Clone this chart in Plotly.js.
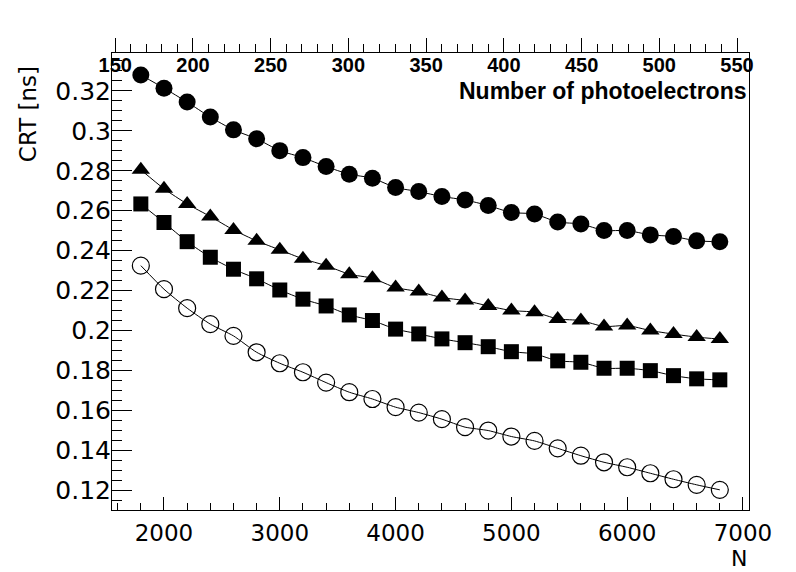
<!DOCTYPE html>
<html>
<head>
<meta charset="utf-8">
<script src="https://cdn.plot.ly/plotly-3.0.1.min.js"></script>
<style>html,body{margin:0;padding:0;background:#fff;}#chart{width:796px;height:572px;}</style>
</head>
<body>
<div id="chart"></div>
<script>
var N = [1800, 2000, 2200, 2400, 2600, 2800, 3000, 3200, 3400, 3600, 3800, 4000, 4200,
         4400, 4600, 4800, 5000, 5200, 5400, 5600, 5800, 6000, 6200, 6400, 6600, 6800];
var crtFilledCircle = [0.3280, 0.3214, 0.3144, 0.3069, 0.3005, 0.2960, 0.2901, 0.2866, 0.2821,
                       0.2783, 0.2763, 0.2716, 0.2696, 0.2671, 0.2654, 0.2626, 0.2591, 0.2584,
                       0.2543, 0.2534, 0.2501, 0.2501, 0.2479, 0.2471, 0.2449, 0.2445];
var crtTriangle = [0.2805, 0.2710, 0.2634, 0.2571, 0.2504, 0.2449, 0.2404, 0.2359, 0.2325,
                   0.2282, 0.2262, 0.2215, 0.2195, 0.2165, 0.2150, 0.2123, 0.2100, 0.2092,
                   0.2058, 0.2050, 0.2020, 0.2025, 0.2000, 0.1982, 0.1967, 0.1957];
var crtSquare = [0.2634, 0.2541, 0.2445, 0.2367, 0.2307, 0.2259, 0.2203, 0.2157, 0.2123,
                 0.2078, 0.2050, 0.2007, 0.1983, 0.1958, 0.1939, 0.1919, 0.1894, 0.1883,
                 0.1848, 0.1841, 0.1811, 0.1811, 0.1799, 0.1774, 0.1758, 0.1753];
var crtOpenCircle = [0.2325, 0.2207, 0.2112, 0.2032, 0.1973, 0.1891, 0.1836, 0.1791, 0.1739,
                     0.1691, 0.1657, 0.1616, 0.1589, 0.1556, 0.1516, 0.1499, 0.1469, 0.1447,
                     0.1410, 0.1373, 0.1340, 0.1315, 0.1285, 0.1255, 0.1227, 0.1202];
var topAxisRange = [147.9, 557.7];

var FONT = 'DejaVu Sans, Verdana, sans-serif';
var BOLD = 'Liberation Sans, Arial, Helvetica, sans-serif';

function series(y, symbol, size, lw) {
  return {
    x: N, y: y, type: 'scatter', mode: 'lines+markers',
    line: {color: '#000', width: 1, shape: 'spline', smoothing: 0.6},
    marker: {symbol: symbol, size: size, color: '#000', line: {color: '#000', width: lw}},
    hoverinfo: 'skip'
  };
}

var data = [
  series(crtFilledCircle, 'circle', 17, 0),
  series(crtTriangle, 'triangle-up', 16, 0),
  series(crtSquare, 'square', 15, 0),
  series(crtOpenCircle, 'circle-open', 17, 1.2),
  {x: topAxisRange, y: [null, null], xaxis: 'x2', yaxis: 'y', type: 'scatter',
   mode: 'markers', marker: {opacity: 0}, hoverinfo: 'skip', showlegend: false}
];

var layout = {
  width: 796, height: 572,
  margin: {l: 112, r: 47, t: 53, b: 62, pad: 0},
  paper_bgcolor: '#fff', plot_bgcolor: '#fff',
  showlegend: false,
  font: {family: FONT, color: '#000'},
  xaxis: {
    range: [1551, 7052], showgrid: false, zeroline: false,
    showline: true, linecolor: '#000', linewidth: 1, mirror: false,
    ticks: 'inside', ticklen: 13, tickwidth: 1, tickcolor: '#000',
    tick0: 0, dtick: 1000,
    minor: {ticks: 'inside', dtick: 200, ticklen: 7, tickwidth: 1, tickcolor: '#000', showgrid: false},
    tickfont: {family: FONT, size: 23, color: '#000'},
    ticklabelstandoff: 2
  },
  xaxis2: {
    overlaying: 'x', side: 'top', anchor: 'y',
    range: topAxisRange, showgrid: false, zeroline: false,
    showline: true, linecolor: '#000', linewidth: 1,
    ticks: 'outside', ticklen: 14, tickwidth: 1, tickcolor: '#000',
    tick0: 0, dtick: 50,
    minor: {ticks: 'outside', dtick: 10, ticklen: 8, tickwidth: 1, tickcolor: '#000', showgrid: false},
    ticklabelposition: 'inside', ticklabeloverflow: 'allow', ticklabelstandoff: 6,
    tickfont: {family: BOLD, size: 20, color: '#000', weight: 'bold'}
  },
  yaxis: {
    range: [0.1101, 0.339], showgrid: false, zeroline: false,
    showline: true, linecolor: '#000', linewidth: 1, mirror: true,
    ticks: 'inside', ticklen: 20, tickwidth: 1, tickcolor: '#000',
    tick0: 0, dtick: 0.02, tickformat: '.2~f',
    minor: {ticks: 'inside', dtick: 0.005, ticklen: 10, tickwidth: 1, tickcolor: '#000', showgrid: false},
    tickfont: {family: FONT, size: 25, color: '#000'},
    ticklabelstandoff: -5
  },
  annotations: [
    {text: 'CRT [ns]', xref: 'paper', yref: 'paper', x: -0.132, y: 0.866,
     xanchor: 'center', yanchor: 'middle', textangle: -90, showarrow: false,
     font: {family: FONT, size: 23, color: '#000'}},
    {text: 'N', xref: 'paper', yref: 'paper', x: 1.0, y: -0.1068,
     xanchor: 'right', yanchor: 'middle', showarrow: false,
     font: {family: FONT, size: 22, color: '#000'}},
    {text: 'Number of photoelectrons', xref: 'paper', yref: 'paper', x: 1.0, y: 0.916,
     xanchor: 'right', yanchor: 'middle', showarrow: false,
     font: {family: BOLD, size: 23, color: '#000', weight: 'bold'}}
  ]
};

Plotly.newPlot('chart', data, layout, {displayModeBar: false, staticPlot: true});
</script>
</body>
</html>
